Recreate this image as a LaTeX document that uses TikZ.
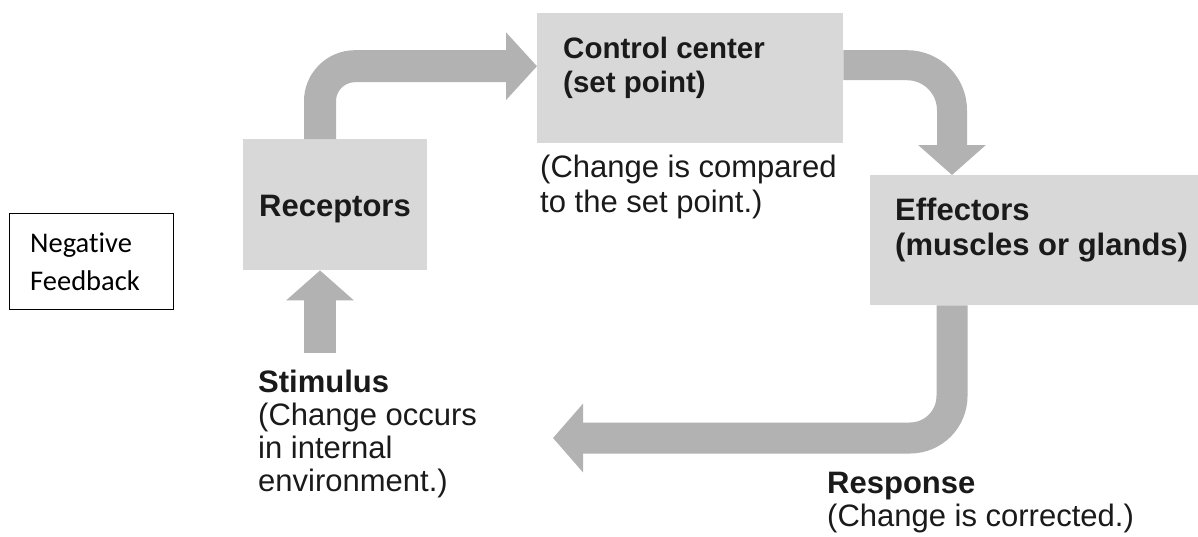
\documentclass[tikz,border=0pt]{standalone}
\usepackage{fontspec}
\setmainfont{Liberation Sans}
\newfontfamily\calib[Ligatures=NoCommon]{Carlito}
\usetikzlibrary{arrows.meta,calc}
\definecolor{boxgray}{HTML}{D8D8D8}
\definecolor{arrowgray}{HTML}{B2B2B2}
\definecolor{ink}{HTML}{1A1A1A}
\begin{document}
\begin{tikzpicture}[x=1pt,y=-1pt,
  box/.style={fill=boxgray, draw=none, inner sep=0pt, anchor=north west},
  lbl/.style={anchor=base west, inner sep=0pt, align=left, text=ink,
    font=\fontsize{31}{34}\selectfont},
  blbl/.style={lbl, font=\fontsize{31}{35}\selectfont\bfseries},
  flow/.style={draw=arrowgray, line width=#1},
  tip/.style 2 args={-{Triangle[length=#1,width=#2]}}
]
\useasboundingbox (0,0) rectangle (1198,536);
\fill[white] (0,0) rectangle (1198,536);

% boxes
\node[box, minimum width=184pt, minimum height=131pt] (rec) at (243,139) {};
\node[box, minimum width=306pt, minimum height=130pt] (ctl) at (537,13) {};
\node[box, minimum width=328pt, minimum height=130pt] (eff) at (870,175) {};
\node[draw=black, line width=1pt, inner sep=0pt, anchor=north west,
  minimum width=164pt, minimum height=96pt] (neg) at (9,213) {};

% texts (base = baseline of the last line)
\node[blbl, font=\fontsize{29.5}{34}\selectfont\bfseries] (ctltxt) at (563,92) {Control center\\(set point)};
\node[lbl, font=\fontsize{31}{35}\selectfont] (cmp) at (540,212) {(Change is compared\\to the set point.)};
\node[blbl] (rectxt) at (259,216) {Receptors};
\node[blbl] (efftxt) at (895,255) {Effectors\\(muscles or glands)};
\node[lbl, font=\fontsize{31}{33}\selectfont] (stim) at (258,491) {\textbf{Stimulus}\\(Change occurs\\in internal\\environment.)};
\node[lbl, font=\fontsize{31}{33}\selectfont] (resp) at (827,526) {\textbf{Response}\\(Change is corrected.)};
\node[anchor=base west, inner sep=0pt, align=left,
  font=\calib\fontsize{28.5}{38}\selectfont] (negtxt) at (30,290) {Negative\\Feedback};

% connectors
\coordinate (a4start) at (320,353);
\coordinate (a3end) at (553,438);

\draw[flow=32pt, rounded corners=35pt, tip={31pt}{66pt}]
  ([xshift=77pt]rec.north west) |- ([yshift=12pt]ctl.west);
\draw[flow=30pt, rounded corners=45pt, tip={30pt}{66pt}]
  ([yshift=13pt]ctl.east) -| ([xshift=82pt]eff.north west);
\draw[flow=31pt, rounded corners=42pt, tip={30pt}{67pt}]
  ([xshift=82pt]eff.south west) |- (a3end);
\draw[flow=32pt, tip={30pt}{66pt}] (a4start) -- ([xshift=77pt]rec.south west);
\end{tikzpicture}
\end{document}
